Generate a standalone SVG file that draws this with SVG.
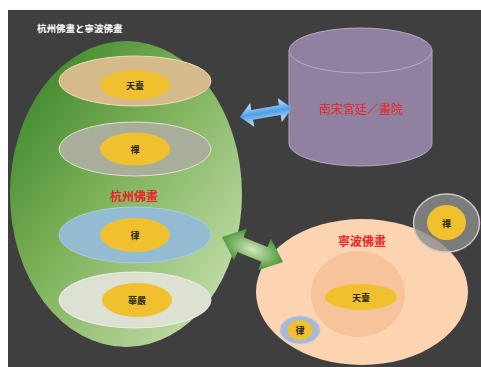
<svg xmlns="http://www.w3.org/2000/svg" width="481" height="367" viewBox="0 0 481 367">
<defs>
<linearGradient id="gGreen" x1="0" y1="0" x2="1" y2="1">
<stop offset="0" stop-color="#2f7d22"/>
<stop offset="0.45" stop-color="#7eb25a"/>
<stop offset="1" stop-color="#d2e6bc"/>
</linearGradient>
<linearGradient id="gBlueArrow" x1="0" y1="0" x2="0" y2="1">
<stop offset="0" stop-color="#cfe4f8"/>
<stop offset="0.5" stop-color="#4d9fe8"/>
<stop offset="1" stop-color="#cfe4f8"/>
</linearGradient>
<radialGradient id="gGreenArrow" cx="0.5" cy="0.5" r="0.5">
<stop offset="0" stop-color="#d4e8c0"/>
<stop offset="1" stop-color="#4a9636"/>
</radialGradient>
<style>
.lbl{font-family:"Noto Sans CJK TC","Noto Sans CJK JP",sans-serif;font-weight:bold;font-size:9px;fill:#2a2a1a;text-anchor:middle;dominant-baseline:central}
.red{font-family:"Noto Sans CJK TC","Noto Sans CJK JP",sans-serif;font-weight:bold;font-size:12px;fill:#e8242a;text-anchor:middle;dominant-baseline:central}
.yel{fill:#f1c02e}
</style>
</defs>
<rect x="0" y="0" width="481" height="367" fill="#ffffff"/>
<rect x="8" y="10" width="473" height="357" fill="#3f3f3f"/>
<text x="37" y="28" font-family="Noto Sans CJK TC, Noto Sans CJK JP, sans-serif" font-weight="bold" font-size="9.5" fill="#ffffff" dominant-baseline="central">杭州佛畫と寧波佛畫</text>

<g id="hangzhou">
<ellipse cx="126" cy="194" rx="116" ry="153" fill="url(#gGreen)"/>
<text class="red" x="134" y="195">杭州佛畫</text>
</g>
<g id="hz-tiantai">
<ellipse cx="135" cy="81" rx="76" ry="25" fill="#d5ba8a" stroke="#efdcb8" stroke-width="1"/>
<ellipse class="yel" cx="135" cy="85" rx="35" ry="15"/>
<text class="lbl" x="135" y="85">天臺</text>
</g>
<g id="hz-chan">
<ellipse cx="135" cy="149" rx="76" ry="27" fill="#a9ae9a" stroke="#dfe2d2" stroke-width="1"/>
<ellipse class="yel" cx="135" cy="149" rx="35" ry="16.5"/>
<text class="lbl" x="135" y="149">禪</text>
</g>
<g id="hz-lu">
<ellipse cx="135" cy="235" rx="76" ry="28" fill="#93bcd2" stroke="#a9cde0" stroke-width="1"/>
<ellipse class="yel" cx="135" cy="235" rx="35" ry="17"/>
<text class="lbl" x="135" y="235">律</text>
</g>
<g id="hz-huayan">
<ellipse cx="135" cy="300" rx="76" ry="28" fill="#dde1d2" stroke="#eef0e6" stroke-width="1"/>
<ellipse class="yel" cx="137" cy="300" rx="35" ry="17"/>
<text class="lbl" x="137" y="300">華嚴</text>
</g>

<g id="court">
<path d="M289 50.5 L289 143.5 A71.5 22.5 0 0 0 432 143.5 L432 50.5 Z" fill="#8f819f" stroke="#b5a8c5" stroke-width="1"/>
<ellipse cx="360.5" cy="50.5" rx="71.5" ry="22.5" fill="#8f819f" stroke="#b8aac8" stroke-width="1"/>
<text class="red" x="361" y="108" font-weight="normal" style="font-weight:normal;font-family:'Noto Sans CJK TC','Noto Sans CJK JP',sans-serif">南宋宮廷／畫院</text>
</g>

<g id="ningbo">
<ellipse cx="362" cy="292" rx="106" ry="73" fill="#fcd4b2"/>
<text class="red" x="362" y="240">寧波佛畫</text>
</g>
<g id="nb-tiantai">
<ellipse cx="358" cy="294" rx="47" ry="43" fill="#f7c39a"/>
<ellipse class="yel" cx="361" cy="297" rx="36" ry="13"/>
<text class="lbl" x="361" y="297">天臺</text>
</g>
<g id="nb-chan">
<ellipse cx="446.5" cy="223" rx="33" ry="29" fill="#8c8c8c" fill-opacity="0.8" stroke="#c9c9c9" stroke-width="1.5"/>
<ellipse class="yel" cx="446.5" cy="222.5" rx="19.5" ry="17.5"/>
<text class="lbl" x="446.5" y="223">禪</text>
</g>
<g id="nb-lu">
<ellipse cx="300" cy="330" rx="20" ry="14" fill="#a9b9d3" stroke="#c3d0e2" stroke-width="1"/>
<ellipse class="yel" cx="300" cy="330" rx="12.5" ry="10"/>
<text class="lbl" x="300" y="330">律</text>
</g>

<g id="connectors">
<g transform="translate(266 112.5) rotate(-9.8)">
<path d="M-26.5 0 L-14 -12 L-14 -5 L14 -5 L14 -12 L26.5 0 L14 12 L14 5 L-14 5 L-14 12 Z" fill="url(#gBlueArrow)"/>
</g>
<g transform="translate(252.5 249.5) rotate(22.3)">
<path d="M-33 0 L-13 -17 L-13 -8 L13 -8 L13 -17 L33 0 L13 17 L13 8 L-13 8 L-13 17 Z" fill="url(#gGreenArrow)"/>
</g>
</g>
</svg>
